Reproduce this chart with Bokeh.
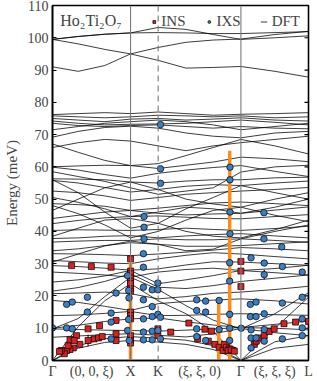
import math
from bokeh.plotting import figure
from bokeh.models import (Range1d, FixedTicker, Span, Label, Legend,
                          LegendItem, Whisker, ColumnDataSource)
from bokeh.embed import file_html
from bokeh.resources import INLINE

# ---- path (high-symmetry points) ----
SYM_POS = [0.0, 1.0, 1.354, 2.414, 3.28]
TICK_POS = [0.0, 0.5, 1.0, 1.354, 1.884, 2.414, 2.847, 3.28]
TICK_LABELS = ["Γ", "(0, 0, ξ)", "X", "K", "(ξ, ξ, 0)", "Γ", "(ξ, ξ, ξ)", "L"]
Y_TICKS = list(range(0, 111, 10))

# ---- DFT bands: energies (meV) sampled at K_PATH ----
K_PATH = [0.0, 0.33, 0.67, 1.0, 1.354, 1.71, 2.06, 2.414, 2.85, 3.28]
BANDS_LOW = [
    [0.0, 3.8, 5.6, 6.2, 5.7, 5.0, 3.4, 0.0, 3.8, 5.0],
    [0.0, 4.6, 6.8, 7.4, 6.9, 6.3, 4.6, 0.0, 5.8, 7.7],
    [0.0, 10.5, 18.5, 23.8, 18.5, 14.5, 9.0, 0.0, 10.0, 19.6],
    [9.8, 13.0, 19.8, 25.8, 22.0, 17.0, 12.5, 9.8, 14.5, 21.0],
    [7.2, 7.6, 8.0, 8.3, 7.8, 7.3, 8.3, 9.9, 8.6, 7.7],
    [9.8, 9.6, 9.4, 9.3, 9.1, 9.4, 9.8, 10.2, 10.0, 9.5],
    [10.0, 10.9, 12.1, 12.9, 13.2, 12.0, 11.0, 10.2, 11.2, 12.2],
    [13.9, 14.1, 14.6, 15.2, 13.9, 14.0, 14.3, 14.5, 14.2, 14.0],
    [18.6, 18.0, 16.8, 15.5, 17.6, 18.3, 18.7, 19.1, 18.5, 17.5],
    [20.7, 20.9, 21.2, 20.7, 19.1, 19.8, 20.8, 21.2, 22.0, 23.0],
    [21.5, 22.6, 24.5, 26.9, 22.7, 22.3, 23.2, 24.5, 25.5, 26.5],
    [24.3, 25.0, 26.2, 27.9, 23.8, 25.0, 26.3, 27.9, 28.5, 29.5],
    [27.4, 27.0, 26.5, 25.8, 27.4, 28.2, 28.6, 27.9, 27.2, 26.5],
    [29.4, 29.1, 28.6, 28.0, 28.4, 29.6, 30.6, 30.5, 30.0, 29.5],
    [31.0, 30.6, 30.2, 30.0, 31.5, 32.6, 33.4, 33.0, 32.2, 31.5],
    [33.1, 33.0, 32.8, 32.5, 33.0, 33.6, 34.2, 35.0, 34.6, 34.0],
]
BANDS_MID = [
    [34.0, 34.6, 35.6, 36.5, 36.0, 35.4, 35.4, 35.6, 36.2, 36.8],
    [36.7, 37.0, 37.2, 37.2, 37.7, 37.4, 37.4, 37.7, 37.2, 36.6],
    [37.8, 38.0, 38.5, 38.7, 38.0, 38.6, 39.0, 39.3, 38.6, 38.0],
    [40.3, 40.5, 40.4, 40.3, 40.6, 41.0, 40.6, 40.3, 40.9, 41.6],
    [42.4, 43.4, 44.2, 44.6, 44.8, 44.4, 44.0, 43.9, 44.6, 45.2],
    [44.0, 45.0, 46.0, 46.5, 45.6, 45.1, 45.4, 45.6, 46.6, 47.6],
    [48.6, 48.3, 47.8, 46.5, 47.2, 48.0, 48.8, 49.1, 48.6, 48.0],
    [52.5, 52.0, 51.0, 49.6, 50.5, 51.5, 52.0, 52.5, 53.0, 53.6],
    [55.8, 55.0, 53.6, 52.2, 53.0, 54.0, 54.5, 54.2, 55.0, 55.6],
    [56.3, 56.2, 56.0, 55.3, 55.0, 55.6, 56.0, 56.0, 56.6, 56.8],
    [59.9, 59.0, 57.6, 56.5, 58.0, 59.0, 59.8, 60.4, 58.6, 57.0],
    [60.0, 60.3, 60.5, 60.4, 59.5, 60.5, 61.5, 63.0, 62.5, 61.6],
    [56.0, 52.0, 46.0, 41.0, 42.5, 47.0, 50.5, 54.2, 52.0, 50.0],
    [48.0, 45.5, 42.0, 38.0, 40.0, 43.5, 46.5, 47.5, 50.0, 52.0],
    [46.5, 50.0, 53.5, 55.3, 53.0, 50.0, 48.5, 47.5, 45.0, 43.0],
    [30.5, 33.0, 35.5, 37.0, 36.0, 34.0, 34.5, 37.7, 40.0, 42.0],
    [38.5, 41.0, 43.5, 44.0, 42.5, 40.0, 38.5, 38.0, 40.5, 43.5],
    [50.5, 49.0, 47.0, 44.6, 46.0, 47.5, 47.0, 45.6, 47.5, 50.0],
    [58.5, 57.0, 55.5, 53.5, 51.5, 52.5, 53.5, 58.4, 60.0, 60.5],
]
BANDS_UP = [
    [67.1, 64.5, 62.0, 60.4, 61.0, 63.5, 66.0, 68.5, 66.5, 64.0],
    [66.0, 67.5, 68.5, 68.0, 66.5, 65.0, 66.5, 67.5, 68.5, 69.5],
    [69.2, 71.0, 72.2, 72.6, 72.0, 70.5, 69.5, 69.0, 70.5, 71.0],
    [71.5, 72.5, 73.5, 74.0, 74.5, 74.0, 73.0, 71.5, 72.5, 73.5],
    [73.5, 72.8, 72.5, 72.8, 73.0, 72.5, 72.0, 72.5, 72.0, 71.8],
    [74.2, 73.5, 73.0, 73.2, 73.3, 73.5, 74.0, 74.5, 73.8, 73.0],
    [75.0, 74.5, 74.0, 74.8, 75.0, 74.5, 74.8, 75.2, 74.5, 74.2],
    [75.8, 75.5, 75.2, 75.5, 76.0, 75.8, 75.5, 75.8, 75.2, 75.5],
    [76.2, 76.5, 76.8, 76.5, 77.0, 76.5, 76.0, 76.3, 76.5, 76.8],
]
BANDS_TOP = [
    [99.5, 100.4, 101.1, 101.5, 103.2, 102.6, 101.0, 99.5, 100.0, 100.6],
    [99.5, 98.1, 96.4, 95.0, 97.0, 98.6, 99.3, 99.6, 101.0, 102.0],
    [91.0, 89.6, 91.4, 95.0, 93.0, 90.6, 90.8, 91.1, 89.6, 87.8],
    [99.5, 100.4, 101.1, 101.5, 101.6, 101.5, 101.3, 101.3, 101.6, 101.9],
]

# ---- INS (red squares) ----
INS_K = [0.245, 0.498, 0.751, 0.456, 0.603, 0.814, 0.814, 0.814, 0.532, 0.59,
         0.637, 0.308, 0.456, 0.35, 0.266, 0.224, 0.181, 0.152, 0.11, 0.2,
         0.224, 0.278, 0.09,
         1.0, 1.0, 1.0, 1.0, 1.0, 1.0, 1.0, 1.0, 1.0, 1.0, 1.0, 1.0, 1.0, 1.0,
         1.35, 1.35, 1.515, 1.747, 1.953, 2.038, 1.86, 1.996, 2.08, 2.135,
         2.186, 2.2, 2.228, 2.27, 2.313, 2.25, 2.29, 2.33,
         2.414, 2.414, 2.414,
         2.586, 2.61, 2.637, 2.713, 2.776, 2.84, 2.966, 3.114, 3.28]
INS_E = [29.4, 29.1, 28.9, 9.8, 10.8, 12.4, 8.3, 6.2, 6.7, 7.0,
         7.4, 7.7, 6.2, 5.0, 3.9, 3.4, 3.1, 2.1, 3.1, 4.6,
         6.4, 6.2, 2.8,
         31.5, 27.7, 26.9, 25.6, 24.6, 23.8, 22.2, 21.5, 15.0, 13.9, 12.9, 7.7, 6.2, 5.4,
         9.8, 7.7, 8.8, 11.6, 9.7, 9.1, 6.7, 6.0, 5.0, 4.1,
         3.1, 5.0, 4.1, 3.6, 3.1, 3.1, 3.3, 2.9,
         30.7, 27.7, 22.9,
         5.0, 6.0, 7.0, 7.7, 9.0, 9.8, 11.4, 11.9, 12.1]

# ---- IXS (blue circles) ----
IXS_K = [0.0, 0.181, 0.253, 0.181, 0.253, 0.447, 0.814, 0.447, 0.751, 0.751,
         0.975, 0.962, 0.983, 0.751, 0.962, 0.975, 0.98,
         1.165, 1.165, 1.165, 1.165, 1.165, 1.165, 1.165, 1.278, 1.35, 1.35,
         1.278, 1.278, 1.35, 1.384, 1.278, 1.35, 1.384, 1.278, 1.173, 1.173,
         1.173, 1.384, 1.384, 1.384,
         1.848, 1.962, 1.962, 1.848, 1.848, 1.962, 2.135, 2.135, 1.848,
         2.27, 2.27, 2.27, 2.27, 2.27, 2.274, 2.274, 2.274, 2.274,
         2.418,
         2.544, 2.713, 2.713, 2.945, 3.2, 2.535, 2.608, 2.535, 2.608, 2.713,
         2.945, 3.2, 2.544, 2.713, 2.544, 2.608, 2.713, 2.544, 2.945, 3.2,
         3.2, 3.2, 2.709, 2.709, 2.937]
IXS_E = [10.1, 10.1, 9.8, 17.4, 18.1, 19.6, 20.9, 15.0, 14.7, 11.9,
         12.7, 9.3, 6.2, 6.7, 26.3, 21.7, 19.4,
         33.1, 28.9, 22.7, 18.8, 12.9, 8.8, 6.4, 21.9, 21.9, 24.0,
         16.7, 13.6, 14.3, 13.4, 9.1, 9.3, 6.7, 6.4, 44.6, 41.3,
         37.7, 59.4, 54.9, 73.1,
         18.8, 18.4, 15.0, 15.5, 9.8, 6.2, 18.6, 9.6, 7.4,
         30.3, 24.6, 14.3, 10.0, 6.2, 59.9, 56.0, 46.0, 39.3,
         10.0,
         31.8, 30.2, 26.6, 29.1, 27.4, 17.4, 18.1, 13.6, 13.6, 14.5,
         17.8, 19.6, 9.5, 9.6, 7.0, 7.0, 6.0, 3.9, 6.7, 10.1,
         7.7, 12.9, 45.8, 37.7, 35.2]

# ---- error bars ----
ERR_K = [0.456, 2.713]
ERR_E = [6.2, 26.6]
ERR_D = [1.8, 1.5]

# ---- orange vertical cuts ----
CUT_K = [1.0, 2.13, 2.27]
CUT_TOP = [30.3, 19.6, 65.0]

FONT = "Liberation Serif"

p = figure(width=317, height=381, output_backend="svg", toolbar_location=None,
           x_range=Range1d(0, 3.28), y_range=Range1d(0, 110),
           min_border_left=49, min_border_right=9, min_border_top=5,
           min_border_bottom=21)
p.background_fill_color = "white"
p.border_fill_color = "white"
p.grid.visible = False
p.outline_line_color = "black"
p.outline_line_width = 1.6
p.outline_line_alpha = 1.0

# axes
xa = p.xaxis[0]
xa.ticker = FixedTicker(ticks=TICK_POS)
xa.major_label_overrides = {t: l for t, l in zip(TICK_POS, TICK_LABELS)}
xa.major_tick_line_color = None
xa.major_tick_in = 0
xa.major_tick_out = 0
xa.minor_tick_line_color = None
xa.minor_tick_in = 0
xa.minor_tick_out = 0
xa.axis_line_width = 1.6
xa.major_label_text_font = FONT
xa.major_label_text_font_size = "14px"
xa.major_label_standoff = 3

ya = p.yaxis[0]
ya.ticker = FixedTicker(ticks=Y_TICKS)
ya.major_tick_in = 4
ya.major_tick_out = 0
ya.minor_tick_line_color = None
ya.minor_tick_out = 0
ya.axis_line_width = 1.6
ya.major_label_text_font = FONT
ya.major_label_text_font_size = "14px"
ya.major_label_standoff = 4
ya.axis_label = "Energy (meV)"
ya.axis_label_text_font = FONT
ya.axis_label_text_font_size = "15px"
ya.axis_label_text_font_style = "normal"
ya.axis_label_standoff = 5

# inward ticks on the right frame edge
p.ray(x=[3.28] * len(Y_TICKS), y=Y_TICKS, length=4, length_units="screen",
      angle=math.pi, line_color="black", line_width=1.2)

# symmetry lines
for pos, dash in zip(SYM_POS[1:4], ["solid", "6 4", "solid"]):
    p.add_layout(Span(location=pos, dimension="height", line_color="#7a7a7a",
                      line_width=1.1, line_dash=dash))

# DFT bands
all_bands = BANDS_LOW + BANDS_MID + BANDS_UP + BANDS_TOP
r_dft = p.multi_line(xs=[K_PATH] * len(all_bands), ys=all_bands,
                     line_color="black", line_width=0.9, line_alpha=0.85)

# orange cuts
p.segment(x0=CUT_K, y0=[0] * len(CUT_K), x1=CUT_K, y1=CUT_TOP,
          line_color="#ff8c1a", line_width=3.5)

# error bars
src_err = ColumnDataSource(dict(base=ERR_K,
                                lower=[e - d for e, d in zip(ERR_E, ERR_D)],
                                upper=[e + d for e, d in zip(ERR_E, ERR_D)]))
p.add_layout(Whisker(source=src_err, base="base", lower="lower", upper="upper",
                     dimension="height", line_color="black", line_width=1,
                     upper_head=None, lower_head=None))

r_ins = p.scatter(INS_K, INS_E, marker="square", size=6, fill_color="#d62222",
                  line_color="black", line_width=0.7)
r_ixs = p.scatter(IXS_K, IXS_E, marker="circle", size=6.5, fill_color="#3a7fc4",
                  line_color="black", line_width=0.7)

p.add_layout(Label(x=0.1, y=105.2, text="Ho₂Ti₂O₇", text_font=FONT,
                   text_font_size="16px", text_baseline="middle"))

legend = Legend(items=[LegendItem(label="INS", renderers=[r_ins]),
                       LegendItem(label="IXS", renderers=[r_ixs]),
                       LegendItem(label="DFT", renderers=[r_dft])],
                orientation="horizontal", location="top_right",
                border_line_color=None, background_fill_alpha=0,
                label_text_font=FONT, label_text_font_size="15px",
                glyph_width=7, glyph_height=7, label_standoff=4, spacing=20,
                padding=2, margin=8)
p.add_layout(legend)

open("out.html", "w").write(file_html(p, INLINE))
